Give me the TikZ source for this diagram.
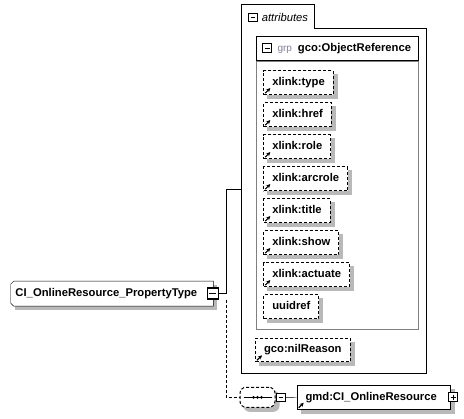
\documentclass[tikz,border=0pt]{standalone}
\usepackage{fontspec}
\setmainfont{Liberation Sans}
\usetikzlibrary{positioning,arrows.meta}
\definecolor{shadowgray}{RGB}{185,185,185}
\definecolor{bodygray}{RGB}{128,128,128}
\definecolor{grpgray}{RGB}{128,128,150}
\newcommand\diagfont{\fontsize{11.25}{13.5}\selectfont}
\pgfdeclarelayer{background}
\pgfsetlayers{background,main}

\begin{document}
\begin{tikzpicture}[x=1pt,y=-1pt,line width=1pt,
    dashline/.style={dash pattern=on 3pt off 2pt},
    elem/.style={draw,dashline,fill=white,anchor=north west,
      minimum height=23.6pt,inner xsep=8.5pt,inner ysep=0pt,
      text height=8.2pt,text depth=2.4pt,font=\diagfont\bfseries},
    minusbox/.style={draw,fill=white,minimum size=8.5pt,inner sep=0pt,
      path picture={\draw ([xshift=2pt]path picture bounding box.west)
        -- ([xshift=-2pt]path picture bounding box.east);}},
    plusbox/.style={draw,fill=white,minimum size=9pt,inner sep=0pt,
      path picture={\draw ([xshift=2pt]path picture bounding box.west)
        -- ([xshift=-2pt]path picture bounding box.east)
        ([yshift=2pt]path picture bounding box.south)
        -- ([yshift=-2pt]path picture bounding box.north);}},
    refarrow/.style={-{Stealth[length=4pt,width=4pt]},line width=1.2pt}]
  \useasboundingbox (0,0) rectangle (464,419);

  % attributes
  \node[minimum width=183.5pt,minimum height=367.5pt,inner sep=0pt,anchor=north west] (attrs) at (241.5,5) {};
  \draw (attrs.north west) -- ([xshift=72.5pt]attrs.north west) -- ++(0,23.5)
    -| (attrs.south east) -- (attrs.south west) -- cycle;
  \node[minusbox] (attrminus) at (253,17.5) {};
  \node[right=3.5pt of attrminus,inner sep=0pt,font=\diagfont\itshape] (attrlabel) {attributes};

  % grp gco:ObjectReference
  \node[draw=bodygray,minimum width=162pt,minimum height=268pt,inner sep=0pt,anchor=north west] (grpbody) at (255.5,61) {};
  \node[draw,minimum width=162pt,minimum height=24pt,inner sep=0pt,above=0pt of grpbody] (grphead) {};
  \node[minusbox,minimum size=9pt,right=6.8pt of grphead.west] (grpminus) {};
  \node[right=4.7pt of grpminus,inner sep=0pt,font=\diagfont\bfseries] (grplabel)
    {\textcolor{grpgray}{\mdseries\fontsize{10}{12}\selectfont grp}\hspace{6pt}gco:ObjectReference};

  \foreach \name [count=\i from 0] in {type,href,role,arcrole,title,show,actuate}
    \node[elem] (\name) at (263.3,70.5+32*\i) {xlink:\name};
  \node[elem] (uuidref) at (263.3,294.5) {uuidref};
  \node[elem] (nilreason) at (255,337.7) {gco:nilReason};
  \foreach \name in {type,href,role,arcrole,title,show,actuate,nilreason}
    \draw[refarrow] ([shift={(2,-2)}]\name.south west) -- ++(5,-5);

  % CI_OnlineResource_PropertyType
  \node[text width=193pt,align=left,inner xsep=4.3pt,inner ysep=0pt,minimum height=24pt,
    anchor=west,font=\diagfont\bfseries] (main) at (10.7,293.7) {CI\_OnlineResource\_PropertyType};
  \node[minusbox,minimum size=11pt,line width=1.6pt] (mainminus) at (212.8,293.5) {};

  % sequence
  \node[draw,dashline,fill=white,rounded corners=6pt,minimum width=35pt,
    minimum height=20pt,inner sep=0pt] (seq) at (257.5,397.3) {};
  \draw ([xshift=4pt]seq.west) -- ([xshift=-4pt]seq.east);
  \foreach \dx in {-4,0,4}
    \fill ([xshift=\dx pt]seq.center) circle (1.5pt);
  \node[minusbox,right=0.7pt of seq] (seqminus) {};

  \node[draw,fill=white,text width=136.7pt,align=left,inner xsep=8.3pt,inner ysep=0pt,
    minimum height=23.6pt,anchor=west,font=\diagfont\bfseries] (gmd) at (296.7,397.5) {gmd:CI\_OnlineResource};
  \node[plusbox,xshift=2pt] (gmdplus) at (gmd.east) {};
  \draw[refarrow] ([shift={(2,-2)}]gmd.south west) -- ++(5,-5);

  % shadows and the outline of the type box
  \begin{pgfonlayer}{background}
    \foreach \name in {type,href,role,arcrole,title,show,actuate,uuidref,nilreason,gmd,main}
      \fill[shadowgray] ([xshift=4pt,yshift=-4pt]\name.north west) rectangle ([xshift=4pt,yshift=-4pt]\name.south east);
    \fill[shadowgray,rounded corners=6pt] ([xshift=4pt,yshift=-4pt]seq.north west) rectangle ([xshift=4pt,yshift=-4pt]seq.south east);
    \filldraw[fill=white] ([xshift=3pt]main.north west) -- (main.north east)
      -- (main.south east) -- ([xshift=3pt]main.south west) -- ([yshift=3pt]main.south west)
      -- ([yshift=-3pt]main.north west) -- cycle;
  \end{pgfonlayer}

  % connectors
  \coordinate (trunk) at ([xshift=-15.5pt]attrs.west);
  \draw (mainminus.east) -| (trunk) -- (attrs.west);
  \draw[dashline] (trunk |- mainminus.south) |- (seq.west);
  \draw (seqminus.east) -- (gmd.west);
\end{tikzpicture}
\end{document}
